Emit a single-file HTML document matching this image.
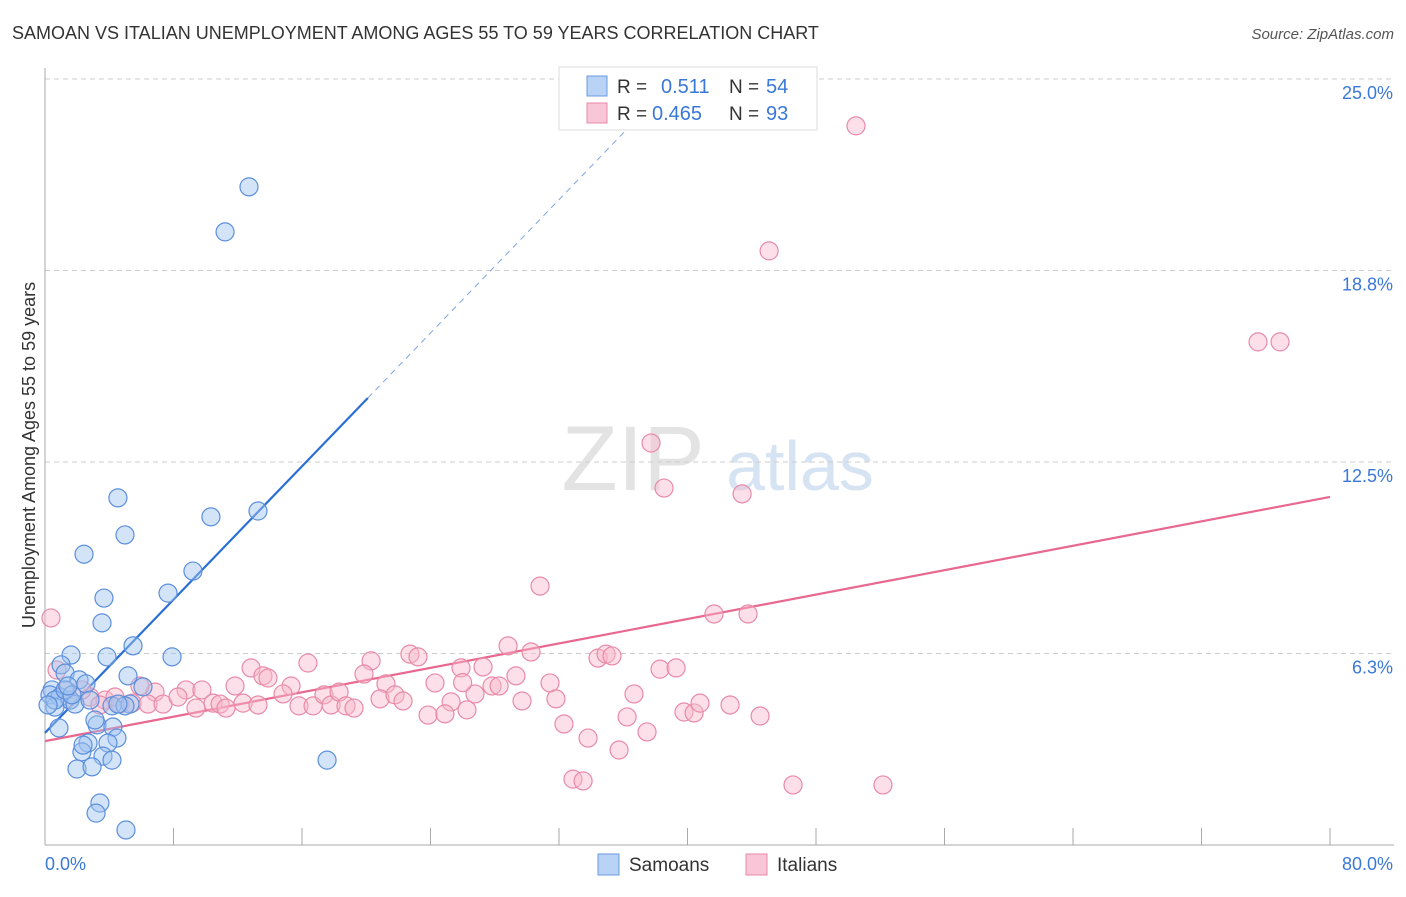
<!DOCTYPE html>
<html><head><meta charset="utf-8">
<style>
body{margin:0;background:#fff;font-family:"Liberation Sans",sans-serif;}
svg text{font-family:"Liberation Sans",sans-serif;}
</style></head>
<body>
<svg id="chart" width="1406" height="892" viewBox="0 0 1406 892" xmlns="http://www.w3.org/2000/svg">
<text x="12" y="39" font-size="18" fill="#333">SAMOAN VS ITALIAN UNEMPLOYMENT AMONG AGES 55 TO 59 YEARS CORRELATION CHART</text>
<text x="1394" y="39" font-size="15" fill="#555" font-style="italic" text-anchor="end">Source: ZipAtlas.com</text>
<g>
<text x="633" y="490" font-size="92" fill="#d8d8d8" font-family="Liberation Serif" text-anchor="middle" opacity="0.7">ZIP</text>
<text x="800" y="490" font-size="70" fill="#c5d8ee" text-anchor="middle" opacity="0.7">atlas</text>
</g>
<g id="grid"></g>
<g id="axes"></g>
<g id="trend"></g>
<g id="pts"></g>
<text x="35" y="455" font-size="18" fill="#333" text-anchor="middle" transform="rotate(-90 35 455)">Unemployment Among Ages 55 to 59 years</text>
<g>
<rect x="559" y="67" width="258" height="63" fill="#fff" stroke="#ddd"/>
<rect x="587" y="76" width="20" height="20" fill="#b8d3f5" stroke="#6a9be0"/>
<rect x="587" y="103" width="20" height="20" fill="#f8c6d6" stroke="#e88aa8"/>
<text x="617" y="93" font-size="19" fill="#333">R = </text><text x="661" y="93" font-size="20" fill="#3a78d8">0.511</text>
<text x="729" y="93" font-size="19" fill="#333">N = </text><text x="766" y="93" font-size="20" fill="#3a78d8">54</text>
<text x="617" y="120" font-size="19" fill="#333">R = </text><text x="652" y="120" font-size="20" fill="#3a78d8">0.465</text>
<text x="729" y="120" font-size="19" fill="#333">N = </text><text x="766" y="120" font-size="20" fill="#3a78d8">93</text>
</g>
<g>
<rect x="598" y="854" width="21" height="21" fill="#b8d3f5" stroke="#6a9be0"/>
<text x="629" y="871" font-size="19" fill="#333">Samoans</text>
<rect x="746" y="854" width="21" height="21" fill="#f8c6d6" stroke="#e88aa8"/>
<text x="777" y="871" font-size="19" fill="#333">Italians</text>
</g>
</svg>
<script>
const samoanX=[12.70,11.21,4.54,4.98,10.33,13.26,2.43,9.21,7.66,3.67,3.55,5.48,1.62,3.86,7.91,1.00,1.25,5.17,2.12,2.55,6.10,0.44,0.31,0.93,1.56,1.87,2.80,5.29,0.62,4.17,3.24,4.23,0.87,2.68,4.48,3.92,2.30,3.61,4.17,1.99,2.93,17.56,3.42,3.18,5.04,0.62,1.25,0.19,1.68,4.98,4.54,3.11,2.37,1.43];
const samoanY=[21.48,20.01,11.33,10.12,10.71,10.90,9.49,8.94,8.22,8.06,7.25,6.50,6.20,6.14,6.14,5.88,5.61,5.52,5.39,5.26,5.16,5.06,4.90,4.83,4.73,4.60,4.73,4.60,4.50,4.54,3.92,3.85,3.82,3.33,3.49,3.33,3.04,2.90,2.77,2.48,2.55,2.77,1.37,1.04,0.49,4.73,5.06,4.57,4.90,4.54,4.60,4.08,3.26,5.19];
const italianX=[50.49,45.08,75.52,76.89,37.73,38.54,43.40,30.82,41.65,43.77,0.37,28.83,30.26,22.72,23.22,20.30,16.37,12.83,25.90,27.27,34.43,34.93,35.30,38.29,39.29,19.86,21.23,24.28,29.32,27.83,28.27,31.44,15.32,13.57,13.88,11.83,8.78,9.77,6.85,5.91,0.75,1.31,2.80,3.74,4.67,5.42,6.41,7.35,8.28,9.40,10.46,10.90,11.27,12.33,13.26,14.82,15.81,16.69,17.37,17.81,18.31,18.74,19.24,20.86,21.79,22.29,26.77,25.28,26.00,29.70,31.81,36.67,23.85,24.90,26.27,36.24,32.31,33.81,35.74,37.48,39.78,40.41,40.78,42.65,44.52,32.87,33.50,46.57,52.17,2.30,1.56,3.42,4.36];
const italianY=[23.47,19.39,16.42,16.42,13.12,11.65,11.46,8.45,7.54,7.54,7.41,6.50,6.30,6.23,6.14,6.01,5.94,5.78,5.78,5.81,6.10,6.23,6.17,5.74,5.78,5.58,5.26,5.29,5.52,5.19,5.19,5.29,5.19,5.52,5.45,5.19,5.06,5.06,4.99,5.19,5.71,5.06,4.83,4.73,4.60,4.63,4.60,4.60,4.83,4.47,4.63,4.60,4.47,4.63,4.57,4.93,4.54,4.54,4.90,4.57,4.99,4.54,4.47,4.77,4.90,4.70,4.93,4.67,5.30,4.70,4.77,4.93,4.24,4.28,4.41,4.18,3.95,3.49,3.10,3.69,4.34,4.31,4.63,4.57,4.21,2.15,2.09,1.96,1.96,5.06,4.73,4.57,4.83];
const yTicks=[6.25,12.5,18.75,25];
const yTickLabels=["6.3%","12.5%","18.8%","25.0%"];
const xTicks=[0,8,16,24,32,40,48,56,64,72,80];
const samoanTrend=[0,3.66,20.1,14.59,39.3];
const italianTrend=[0,3.39,80,11.36];

const NS="http://www.w3.org/2000/svg";
const X0=45,X1=1330,Y0=845,YPX=191.5/6.25;
function sx(v){return X0+(X1-X0)*v/80;}
function sy(v){return Y0-v*YPX;}
function mk(tag,attrs,parent){const e=document.createElementNS(NS,tag);for(const k in attrs)e.setAttribute(k,attrs[k]);parent.appendChild(e);return e;}
const grid=document.getElementById('grid'),axes=document.getElementById('axes'),trend=document.getElementById('trend'),pts=document.getElementById('pts');
yTicks.forEach((t,i)=>{
  const l=mk('line',{x1:X0,x2:1394,y1:sy(t),y2:sy(t),stroke:'#ccc','stroke-dasharray':'5,4'},grid);
  
  
  const tx=mk('text',{x:1393,y:sy(t)+20,'font-size':18,fill:'#3a78d8','text-anchor':'end'},grid);
  tx.textContent=yTickLabels[i];
  
  
});
const ya=mk('line',{x1:X0,x2:X0,y1:68,y2:Y0,stroke:'#aaa'},axes);


const xa=mk('line',{x1:X0,x2:1394,y1:Y0,y2:Y0,stroke:'#aaa'},axes);


xTicks.forEach(t=>{
  const l=mk('line',{x1:sx(t),x2:sx(t),y1:828,y2:Y0,stroke:'#aaa'},axes);
  
  
});
const xl0=mk('text',{x:45,y:870,'font-size':18,fill:'#3a78d8'},axes);xl0.textContent=xTicks[0].toFixed(1)+'%';


const xl1=mk('text',{x:1393,y:870,'font-size':18,fill:'#3a78d8','text-anchor':'end'},axes);xl1.textContent=xTicks[xTicks.length-1].toFixed(1)+'%';



function drawPts(xs,ys,fill,stroke,name){
  xs.forEach((x,i)=>{
    const c=mk('circle',{cx:sx(x),cy:sy(ys[i]),r:9,fill:fill,stroke:stroke,'stroke-width':1.2},pts);
    
    
  });
}
drawPts(italianX,italianY,'rgba(248,185,205,0.45)','#e88aa8','italian-point');
drawPts(samoanX,samoanY,'rgba(160,196,240,0.45)','#5b8fdc','samoan-point');

const slope=(samoanTrend[3]-samoanTrend[1])/(samoanTrend[2]-samoanTrend[0]);
const st=mk('line',{x1:sx(samoanTrend[0]),y1:sy(samoanTrend[1]),x2:sx(samoanTrend[2]),y2:sy(samoanTrend[3]),stroke:'#2a6fd6','stroke-width':2.2},trend);


const sd=mk('line',{x1:sx(samoanTrend[2]),y1:sy(samoanTrend[3]),x2:sx(samoanTrend[4]),y2:sy(samoanTrend[1]+slope*samoanTrend[4]),stroke:'#7aa6e6','stroke-width':1,'stroke-dasharray':'6,5'},trend);


const it=mk('line',{x1:sx(italianTrend[0]),y1:sy(italianTrend[1]),x2:sx(italianTrend[2]),y2:sy(italianTrend[3]),stroke:'#e8688f','stroke-width':2.2},trend);


</script>
</body></html>
